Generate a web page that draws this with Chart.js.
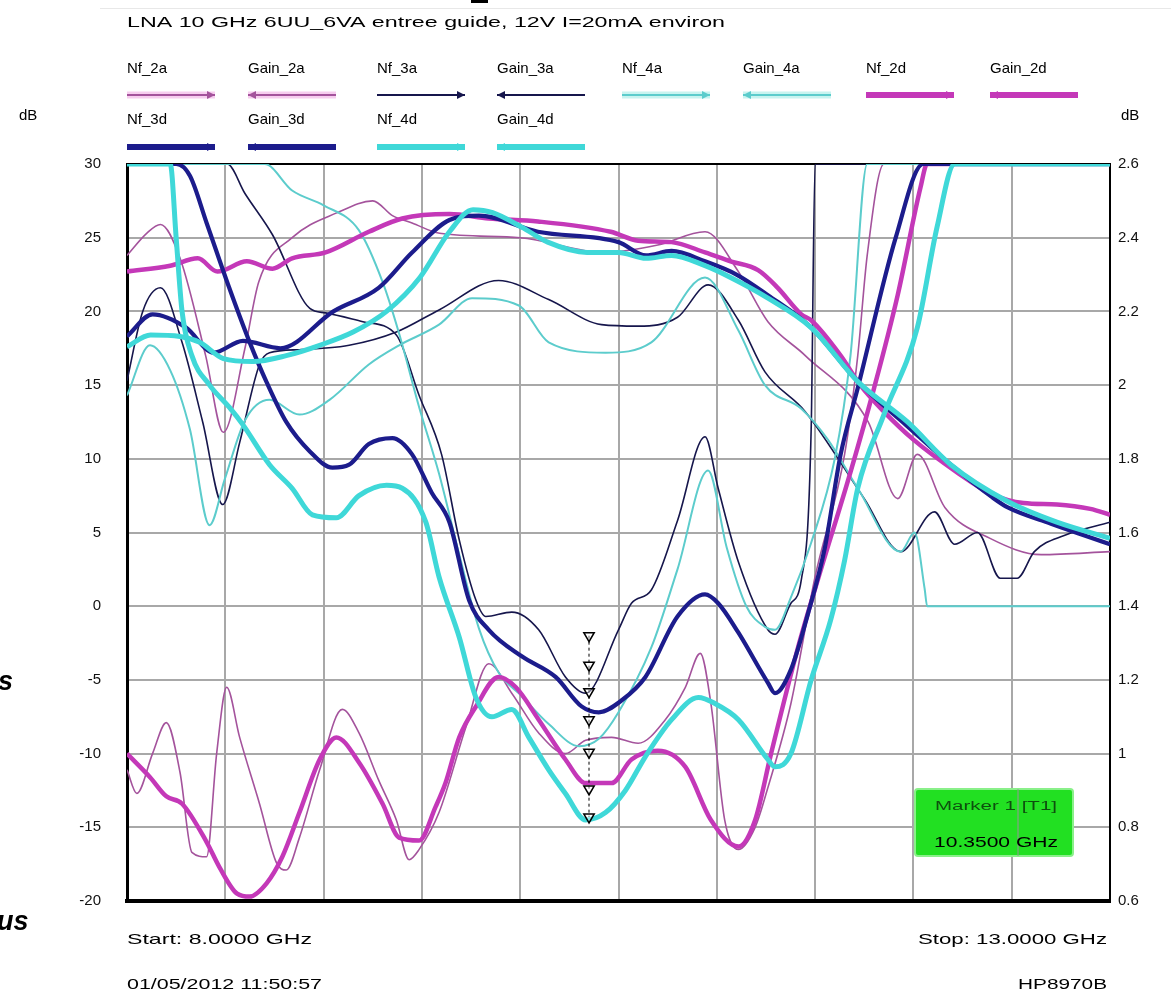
<!DOCTYPE html>
<html>
<head>
<meta charset="utf-8">
<script src="https://cdn.jsdelivr.net/npm/chart.js@4.4.1/dist/chart.umd.min.js"></script>
<style>
  html, body { margin: 0; padding: 0; background: #fff; }
  canvas { display: block; }
</style>
</head>
<body>
<canvas id="c" width="1171" height="993"></canvas>
<script>
// ---- Sweep data (frequency in GHz) ----
// Gain traces, left axis (dB)
const gain2aFreq = [8.00, 8.10, 8.17, 8.27, 8.40, 8.49, 8.60, 8.67, 8.84, 9.07, 9.25, 9.35, 9.45, 9.59, 10.00, 10.43, 10.70, 10.94, 11.11, 11.26, 11.45, 11.77, 11.92, 12.02, 12.16, 12.39, 12.65, 13.00];
const gain2aDb   = [23.8, 25.3, 25.9, 23.6, 17.0, 11.8, 17.5, 22.0, 25.0, 26.7, 27.5, 26.5, 26.0, 25.3, 25.0, 24.0, 24.5, 25.4, 22.7, 19.3, 17.0, 12.5, 7.3, 10.3, 6.7, 4.6, 3.5, 3.7];

const gain3aFreq = [8.00, 8.08, 8.17, 8.28, 8.385, 8.487, 8.573, 8.674, 8.725, 8.877, 9.13, 9.37, 9.587, 9.89, 10.145, 10.414, 10.60, 10.80, 10.956, 11.11, 11.245, 11.45, 11.75, 11.935, 12.107, 12.21, 12.326, 12.442, 12.528, 12.615, 12.767, 13.00];
const gain3aDb   = [15.3, 20.0, 21.6, 17.9, 12.5, 6.9, 11.1, 16.4, 17.2, 17.4, 17.7, 18.6, 20.1, 22.1, 20.8, 19.1, 19.0, 19.6, 21.8, 19.4, 15.9, 13.2, 7.3, 3.7, 6.4, 4.2, 5.0, 1.9, 1.9, 3.7, 4.8, 5.7];

const gain4aFreq = [8.00, 8.117, 8.22, 8.32, 8.42, 8.497, 8.60, 8.725, 8.877, 9.03, 9.23, 9.384, 9.587, 9.755, 9.993, 10.145, 10.434, 10.667, 10.94, 11.11, 11.245, 11.43, 11.565, 11.717, 11.935, 12.006, 12.057, 12.07, 13.00];
const gain4aDb   = [14.3, 17.7, 16.0, 12.0, 5.5, 8.6, 12.6, 14.0, 13.0, 14.0, 16.4, 17.7, 19.1, 20.9, 20.4, 17.9, 17.2, 17.9, 22.3, 18.7, 15.0, 13.4, 11.3, 8.0, 3.7, 5.0, 1.2, 0.0, 0.0];

const gain2dFreq = [8.00, 8.22, 8.36, 8.46, 8.61, 8.74, 8.84, 9.01, 9.23, 9.40, 9.64, 9.84, 10.09, 10.46, 10.60, 10.77, 10.94, 11.07, 11.21, 11.31, 11.43, 11.48, 11.63, 11.73, 11.85, 12.00, 12.22, 12.40, 12.56, 12.73, 12.90, 13.00];
const gain2dDb   = [22.7, 23.1, 23.6, 22.7, 23.4, 22.9, 23.6, 24.0, 25.4, 26.3, 26.6, 26.3, 26.1, 25.4, 24.8, 24.7, 24.0, 23.4, 22.8, 21.6, 19.8, 19.4, 17.0, 15.0, 13.2, 11.3, 9.1, 7.6, 7.0, 6.9, 6.6, 6.2];

const gain3dFreq = [8.00, 8.13, 8.30, 8.44, 8.59, 8.78, 9.05, 9.28, 9.45, 9.64, 9.79, 10.09, 10.50, 10.64, 10.77, 10.94, 11.10, 11.26, 11.48, 11.72, 11.97, 12.19, 12.40, 12.48, 12.70, 13.00];
const gain3dDb   = [18.3, 19.8, 18.9, 17.2, 18.0, 17.5, 20.0, 21.6, 24.0, 26.2, 26.5, 25.4, 24.7, 23.8, 24.1, 23.4, 22.5, 21.1, 18.9, 15.2, 12.2, 9.6, 7.4, 6.7, 5.6, 4.2];

const gain4dFreq = [8.00, 8.12, 8.27, 8.37, 8.49, 8.64, 8.81, 8.98, 9.15, 9.32, 9.49, 9.64, 9.76, 9.86, 10.01, 10.14, 10.34, 10.50, 10.64, 10.77, 10.94, 11.07, 11.26, 11.48, 11.72, 11.97, 12.19, 12.48, 12.73, 13.00];
const gain4dDb   = [17.6, 18.4, 18.3, 17.9, 16.8, 16.6, 17.0, 17.7, 18.6, 20.0, 22.3, 25.4, 26.9, 26.7, 25.7, 24.7, 24.0, 24.0, 23.6, 23.8, 23.1, 22.3, 20.9, 18.9, 15.2, 12.5, 9.6, 7.1, 5.7, 4.6];

// Noise figure traces, right axis (dB); 2.6 is the top of the display
const nf2aFreq = [8.00, 8.05, 8.13, 8.20, 8.27, 8.33, 8.405, 8.456, 8.507, 8.573, 8.674, 8.76, 8.81, 8.877, 8.98, 9.095, 9.18, 9.28, 9.37, 9.435, 9.486, 9.587, 9.724, 9.84, 9.957, 10.094, 10.23, 10.333, 10.465, 10.60, 10.738, 10.84, 10.916, 10.97, 11.04, 11.11, 11.195, 11.26, 11.377, 11.50, 11.65, 11.717, 11.765, 11.85, 13.00];
const nf2aDb   = [0.956, 0.892, 1.000, 1.084, 0.948, 0.732, 0.720, 1.000, 1.180, 1.044, 0.864, 0.704, 0.684, 0.772, 0.956, 1.120, 1.056, 0.928, 0.820, 0.712, 0.740, 0.840, 1.072, 1.244, 1.164, 1.056, 1.000, 1.036, 1.044, 1.028, 1.092, 1.180, 1.272, 1.136, 0.820, 0.740, 0.800, 0.908, 1.136, 1.480, 1.812, 2.080, 2.352, 2.600, 2.600];

const nf3aFreq = [8.00, 8.51, 8.60, 8.74, 8.93, 9.01, 9.20, 9.37, 9.486, 9.60, 9.69, 9.775, 9.825, 9.957, 10.094, 10.23, 10.333, 10.50, 10.566, 10.667, 10.80, 10.94, 11.007, 11.11, 11.26, 11.296, 11.377, 11.43, 11.48, 11.50, 13.00];
const nf3aDb   = [2.600, 2.600, 2.520, 2.408, 2.208, 2.196, 2.172, 2.136, 1.972, 1.812, 1.580, 1.416, 1.372, 1.384, 1.336, 1.208, 1.164, 1.336, 1.408, 1.444, 1.632, 1.860, 1.720, 1.520, 1.336, 1.324, 1.408, 1.472, 1.880, 2.600, 2.600];

const nf4aFreq = [8.00, 8.70, 8.84, 9.00, 9.18, 9.30, 9.384, 9.486, 9.587, 9.69, 9.79, 9.89, 10.00, 10.145, 10.30, 10.40, 10.50, 10.667, 10.80, 10.956, 11.05, 11.15, 11.245, 11.296, 11.377, 11.48, 11.60, 11.68, 11.765, 13.00];
const nf4aDb   = [2.600, 2.600, 2.528, 2.488, 2.420, 2.280, 2.140, 1.940, 1.760, 1.540, 1.340, 1.220, 1.160, 1.080, 1.020, 1.040, 1.112, 1.288, 1.500, 1.768, 1.560, 1.400, 1.344, 1.336, 1.424, 1.572, 1.800, 2.080, 2.600, 2.600];

const nf2dFreq = [8.00, 8.117, 8.20, 8.28, 8.405, 8.47, 8.56, 8.624, 8.71, 8.79, 8.877, 8.98, 9.065, 9.18, 9.30, 9.384, 9.486, 9.57, 9.62, 9.69, 9.775, 9.89, 9.978, 10.094, 10.23, 10.333, 10.465, 10.566, 10.70, 10.84, 10.97, 11.11, 11.195, 11.276, 11.413, 11.514, 11.68, 11.80, 11.92, 12.036, 12.07, 13.00];
const nf2dDb   = [1.000, 0.936, 0.884, 0.864, 0.760, 0.692, 0.620, 0.612, 0.648, 0.720, 0.840, 0.984, 1.044, 0.976, 0.864, 0.772, 0.764, 0.856, 0.920, 1.044, 1.128, 1.208, 1.180, 1.092, 0.984, 0.920, 0.920, 0.984, 1.008, 0.964, 0.820, 0.748, 0.820, 1.000, 1.288, 1.472, 1.764, 1.992, 2.244, 2.536, 2.600, 2.600];

const nf3dFreq = [8.00, 8.25, 8.32, 8.405, 8.52, 8.624, 8.71, 8.81, 8.93, 9.045, 9.13, 9.23, 9.35, 9.45, 9.55, 9.64, 9.74, 9.84, 10.008, 10.18, 10.312, 10.40, 10.515, 10.637, 10.80, 10.94, 11.007, 11.11, 11.26, 11.296, 11.377, 11.464, 11.55, 11.63, 11.717, 11.91, 12.05, 13.00];
const nf3dDb   = [2.600, 2.600, 2.568, 2.440, 2.264, 2.116, 2.008, 1.900, 1.820, 1.776, 1.784, 1.840, 1.856, 1.812, 1.708, 1.628, 1.416, 1.336, 1.264, 1.208, 1.128, 1.112, 1.144, 1.208, 1.372, 1.432, 1.408, 1.328, 1.192, 1.164, 1.228, 1.380, 1.560, 1.812, 1.992, 2.400, 2.600, 2.600];

const nf4dFreq = [8.00, 8.22, 8.25, 8.28, 8.33, 8.42, 8.52, 8.59, 8.725, 8.84, 8.943, 9.065, 9.18, 9.32, 9.40, 9.52, 9.587, 9.69, 9.775, 9.856, 9.957, 10.044, 10.145, 10.23, 10.333, 10.434, 10.535, 10.637, 10.77, 10.906, 10.99, 11.11, 11.26, 11.296, 11.377, 11.48, 11.58, 11.65, 11.717, 11.85, 12.02, 12.12, 12.21, 13.00];
const nf4dDb   = [2.600, 2.600, 2.400, 2.200, 2.080, 2.000, 1.940, 1.892, 1.784, 1.720, 1.648, 1.640, 1.700, 1.728, 1.720, 1.628, 1.480, 1.316, 1.152, 1.100, 1.120, 1.044, 0.956, 0.892, 0.820, 0.840, 0.900, 0.992, 1.092, 1.152, 1.136, 1.092, 0.984, 0.964, 1.000, 1.200, 1.364, 1.524, 1.720, 1.920, 2.156, 2.428, 2.600, 2.600];

// Marker stack at the marker frequency (left axis, dB)
const markerFreq = [10.35, 10.35, 10.35, 10.35, 10.35, 10.35, 10.35];
const markerDb   = [-2.0, -4.0, -5.8, -7.7, -9.9, -12.4, -14.3];

// Axis ticks
const leftTicks  = [30, 25, 20, 15, 10, 5, 0, -5, -10, -15, -20];
const rightTicks = [2.6, 2.4, 2.2, 2, 1.8, 1.6, 1.4, 1.2, 1, 0.8, 0.6];

// ---- Styles ----
const FONT = "'Liberation Sans Narrow','Liberation Sans',Arial,sans-serif";
const C = {
  mauve:   '#a4539c', mauveHalo: '#f7cdef',
  magenta: '#c438b8',
  navyT:   '#16164c', navy: '#1c1c8c',
  cyanT:   '#5ccccc', cyanHalo: '#c8f4f0',
  cyan:    '#3fd8d8'
};

function pts(f, v) { return f.map((x, i) => ({ x: x, y: v[i] })); }

function trace(label, f, v, axis, color, width) {
  return {
    label: label, data: pts(f, v), yAxisID: axis,
    borderColor: color, backgroundColor: color, borderWidth: width,
    pointRadius: 0, fill: false, cubicInterpolationMode: 'monotone'
  };
}

const dsNf2a   = trace('Nf_2a',   nf2aFreq,   nf2aDb,   'y2', C.mauve, 1.6);
const dsGain2a = trace('Gain_2a', gain2aFreq, gain2aDb, 'y',  C.mauve, 1.6);
const dsNf3a   = trace('Nf_3a',   nf3aFreq,   nf3aDb,   'y2', C.navyT, 1.6);
const dsGain3a = trace('Gain_3a', gain3aFreq, gain3aDb, 'y',  C.navyT, 1.6);
const dsNf4a   = trace('Nf_4a',   nf4aFreq,   nf4aDb,   'y2', C.cyanT, 2);
const dsGain4a = trace('Gain_4a', gain4aFreq, gain4aDb, 'y',  C.cyanT, 2);
const dsNf2d   = trace('Nf_2d',   nf2dFreq,   nf2dDb,   'y2', C.magenta, 4.5);
const dsGain2d = trace('Gain_2d', gain2dFreq, gain2dDb, 'y',  C.magenta, 4.5);
const dsNf3d   = trace('Nf_3d',   nf3dFreq,   nf3dDb,   'y2', C.navy, 4.2);
const dsGain3d = trace('Gain_3d', gain3dFreq, gain3dDb, 'y',  C.navy, 4.2);
const dsNf4d   = trace('Nf_4d',   nf4dFreq,   nf4dDb,   'y2', C.cyan, 5);
const dsGain4d = trace('Gain_4d', gain4dFreq, gain4dDb, 'y',  C.cyan, 5);

const dsMarkers = {
  label: 'markers', data: pts(markerFreq, markerDb), yAxisID: 'y',
  showLine: true, borderColor: '#000', borderWidth: 1, borderDash: [3, 3],
  pointStyle: 'triangle', rotation: 180, pointRadius: 6,
  pointBorderColor: '#000', pointBorderWidth: 1.5,
  pointBackgroundColor: 'rgba(255,255,255,0.4)', fill: false
};

// Legend layout: [dataset, column x, row, arrow direction, thick]
const legendRows = [
  [dsNf2a, 127, 0, 1, false], [dsGain2a, 248, 0, -1, false],
  [dsNf3a, 377, 0, 1, false], [dsGain3a, 497, 0, -1, false],
  [dsNf4a, 622, 0, 1, false], [dsGain4a, 743, 0, -1, false],
  [dsNf2d, 866, 0, 1, true],  [dsGain2d, 990, 0, -1, true],
  [dsNf3d, 127, 1, 1, true],  [dsGain3d, 248, 1, -1, true],
  [dsNf4d, 377, 1, 1, true],  [dsGain4d, 497, 1, -1, true]
];
const haloOf = { [C.mauve]: C.mauveHalo, [C.cyanT]: C.cyanHalo };

function fitText(ctx, text, x, y, w, size, opts) {
  opts = opts || {};
  ctx.save();
  ctx.font = (opts.style || '') + ' ' + size + 'px ' + (opts.family || FONT);
  const m = ctx.measureText(text).width;
  ctx.translate(x, y);
  if (w) ctx.scale(w / m, 1);
  ctx.textBaseline = opts.baseline || 'middle';
  ctx.textAlign = 'left';
  ctx.fillStyle = opts.color || '#000';
  ctx.fillText(text, 0, 0);
  ctx.restore();
}

const annotations = {
  id: 'annotations',
  afterDraw(chart) {
    const ctx = chart.ctx;
    // page edge remnants
    ctx.save();
    ctx.fillStyle = '#e8e8e8';
    ctx.fillRect(100, 8, 1071, 1);
    ctx.fillStyle = '#000';
    ctx.fillRect(471, 0, 17, 3);
    ctx.restore();
    fitText(ctx, 's', -2, 690, null, 27, { style: 'italic bold', family: "'Liberation Sans',Arial,sans-serif", baseline: 'alphabetic' });
    fitText(ctx, 'us', -3, 930, null, 27, { style: 'italic bold', family: "'Liberation Sans',Arial,sans-serif", baseline: 'alphabetic' });

    // title
    fitText(ctx, 'LNA 10 GHz 6UU_6VA entree guide, 12V I=20mA environ', 127, 23, 598, 15);

    // legend
    legendRows.forEach(([ds, x, row, dir, thick]) => {
      const ty = row === 0 ? 69 : 120;
      const ly = row === 0 ? 95 : 147;
      fitText(ctx, ds.label, x, ty, null, 15);
      ctx.save();
      const x0 = x, x1 = x + 88;
      if (!thick && haloOf[ds.borderColor]) {
        ctx.strokeStyle = haloOf[ds.borderColor];
        ctx.lineWidth = 7;
        ctx.beginPath(); ctx.moveTo(x0, ly); ctx.lineTo(x1, ly); ctx.stroke();
      }
      ctx.strokeStyle = ds.borderColor;
      ctx.lineWidth = thick ? 6 : 2;
      ctx.beginPath(); ctx.moveTo(x0, ly); ctx.lineTo(x1, ly); ctx.stroke();
      // arrow head shows which axis the trace belongs to
      ctx.fillStyle = ds.borderColor;
      const tip = dir > 0 ? x1 : x0;
      ctx.beginPath();
      ctx.moveTo(tip, ly);
      ctx.lineTo(tip - dir * 8, ly - 4);
      ctx.lineTo(tip - dir * 8, ly + 4);
      ctx.closePath();
      ctx.fill();
      ctx.restore();
    });

    // axis units
    fitText(ctx, 'dB', 19, 116, null, 15);
    fitText(ctx, 'dB', 1121, 116, null, 15);

    // sweep info
    fitText(ctx, 'Start: 8.0000 GHz', 127, 940, 185, 15);
    fitText(ctx, 'Stop: 13.0000 GHz', 918, 940, 189, 15);
    fitText(ctx, '01/05/2012 11:50:57', 127, 985, 195, 15);
    fitText(ctx, 'HP8970B', 1018, 985, 89, 15);

    // marker readout
    ctx.save();
    ctx.fillStyle = '#22e022';
    ctx.strokeStyle = '#8af08a';
    ctx.lineWidth = 2;
    ctx.beginPath();
    ctx.roundRect(915, 789, 158, 67, 3);
    ctx.fill();
    ctx.stroke();
    ctx.fillStyle = 'rgba(150,150,150,0.5)';
    ctx.fillRect(1017, 789, 2, 67);
    ctx.restore();
    fitText(ctx, 'Marker 1 [T1]', 935, 807, 122, 12, { color: '#0e4e0e' });
    fitText(ctx, '10.3500 GHz', 934, 843, 124, 14, { color: '#000' });
  }
};

const gridColor = '#a8a8a8';

new Chart(document.getElementById('c'), {
  type: 'line',
  data: {
    datasets: [dsMarkers, dsNf4d, dsGain4d, dsNf3d, dsGain3d, dsNf2d, dsGain2d,
               dsNf4a, dsGain4a, dsNf3a, dsGain3a, dsNf2a, dsGain2a]
  },
  options: {
    responsive: false,
    animation: false,
    events: [],
    layout: { padding: { top: 164, left: 0, right: 0, bottom: 0 } },
    plugins: { legend: { display: false }, tooltip: { enabled: false }, title: { display: false } },
    scales: {
      x: {
        type: 'linear', min: 8, max: 13,
        ticks: { display: false, stepSize: 0.5 },
        grid: {
          color: c => (c.tick && c.tick.value === 13) ? '#000' : gridColor,
          lineWidth: 2, drawTicks: false
        },
        border: { display: true, color: '#000', width: 4 },
        afterFit: s => { s.height = 92; }
      },
      y: {
        position: 'left', min: -20, max: 30,
        afterBuildTicks: s => { s.ticks = leftTicks.map(v => ({ value: v })); },
        ticks: {
          color: '#111', padding: 26,
          font: { family: FONT, size: 15 },
          callback: v => String(v)
        },
        grid: {
          color: c => (c.tick && c.tick.value === 30) ? '#000' : gridColor,
          lineWidth: 2, drawTicks: false
        },
        border: { display: true, color: '#000', width: 3 },
        afterFit: s => { s.width = 127; }
      },
      y2: {
        position: 'right', min: 0.6, max: 2.6,
        afterBuildTicks: s => { s.ticks = rightTicks.map(v => ({ value: v })); },
        ticks: {
          color: '#111', padding: 8,
          font: { family: FONT, size: 15 },
          callback: v => String(parseFloat(Number(v).toFixed(1)))
        },
        grid: { display: false, drawTicks: false },
        border: { display: true, color: '#000', width: 2 },
        afterFit: s => { s.width = 61; }
      }
    }
  },
  plugins: [annotations]
});
</script>
</body>
</html>
